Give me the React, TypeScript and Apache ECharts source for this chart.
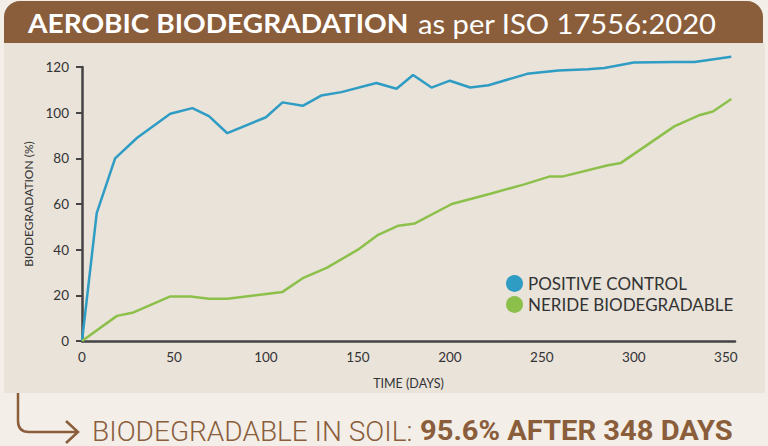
import React, { useEffect, useRef } from "react";
import * as echarts from "echarts";

const xTicks = [0, 50, 100, 150, 200, 250, 300, 350];
const yTicks = [0, 20, 40, 60, 80, 100, 120];

const controlDays = [0, 8, 18, 30, 48, 60, 69, 79, 100, 109, 120, 130, 141, 160, 171, 180, 190, 200, 211, 221, 242, 259, 275, 284, 300, 322, 333, 353];
const controlValues = [0, 56, 80, 89, 99.5, 102, 98.5, 91, 98, 104.5, 103, 107.5, 109, 113, 110.5, 116.5, 111, 114, 111, 112, 117, 118.5, 119, 119.6, 122, 122.2, 122.2, 124.5];

const nerideDays = [0, 19, 28, 48, 59, 69, 79, 99, 109, 120, 133, 150, 161, 172, 181, 201, 222, 240, 254, 261, 286, 293, 322, 336, 343, 353];
const nerideValues = [0, 11, 12.5, 19.5, 19.5, 18.5, 18.5, 20.5, 21.5, 27.5, 32, 40, 46.5, 50.5, 51.5, 60, 64.5, 68.5, 72, 72, 77, 78, 94, 99, 100.5, 106];

const seriesNames = ["POSITIVE CONTROL", "NERIDE BIODEGRADABLE"];

const BROWN = "#8a5d3b";

let registered = false;
function registerArrow() {
  if (registered) return;
  registered = true;
  const d = "M18 393 L18 421 Q18 432 29 432 L78 432 M66 421 L78 432 L66 443";
  echarts.graphic.registerShape("arrowShape", echarts.graphic.extendPath(d, {}) as any);
}

export default function App() {
  const ref = useRef<HTMLDivElement>(null);
  useEffect(() => {
    registerArrow();
    const chart = echarts.init(ref.current!, undefined, { renderer: "svg" });
    const zip = (a: number[], b: number[]) => a.map((v, i) => [v, b[i]]);
    chart.setOption({
      animation: false,
      backgroundColor: "#f3efe8",
      graphic: [
        { type: "rect", z: -10, shape: { x: 4, y: 43, width: 761, height: 350 }, style: { fill: "#e9e3da" } },
        { type: "rect", z: -9, shape: { x: 4, y: 1, width: 759, height: 42, r: [16, 16, 0, 0] }, style: { fill: BROWN } },
        {
          type: "text",
          x: 28,
          y: 23,
          scaleX: 1.04,
          style: {
            text: "AEROBIC BIODEGRADATION",
            verticalAlign: "middle",
            fontFamily: "Lato",
            fontWeight: "bold",
            fontSize: 27,
            lineHeight: 27,
            fill: "#ffffff",
          },
        },
        {
          type: "text",
          x: 418,
          y: 23,
          scaleX: 1.08,
          style: {
            text: "as per ISO 17556:2020",
            verticalAlign: "middle",
            fontFamily: "Lato",
            fontWeight: "normal",
            fontSize: 27,
            lineHeight: 27,
            fill: "#ffffff",
          },
        },
        { type: "arrowShape", x: 0, y: 0, style: { fill: "none", stroke: BROWN, lineWidth: 2.5 } },
        {
          type: "text",
          x: 92,
          y: 431,
          scaleX: 1.0,
          style: {
            text: "BIODEGRADABLE IN SOIL:",
            verticalAlign: "middle",
            fontFamily: "Roboto",
            fontWeight: 300,
            fontSize: 28,
            lineHeight: 26,
            fill: BROWN,
          },
        },
        {
          type: "text",
          x: 420,
          y: 431,
          scaleX: 1.04,
          style: {
            text: "95.6% AFTER 348 DAYS",
            verticalAlign: "middle",
            fontFamily: "Roboto",
            fontWeight: "bold",
            fontSize: 28,
            lineHeight: 26,
            fill: BROWN,
          },
        },
      ],
      legend: {
        orient: "vertical",
        left: 501,
        top: 270,
        itemWidth: 17,
        itemHeight: 17,
        itemGap: 4,
        icon: "circle",
        textStyle: { fontFamily: "Lato", fontSize: 17, color: "#333333" },
        data: seriesNames,
      },
      grid: { left: 82, right: 33, top: 67, bottom: 105, containLabel: false },
      xAxis: {
        type: "value",
        min: 0,
        max: 355,
        interval: 50,
        name: "TIME (DAYS)",
        nameLocation: "middle",
        nameGap: 36,
        nameTextStyle: { fontFamily: "Lato", fontSize: 12.5, color: "#333333" },
        axisLine: { show: true, lineStyle: { color: "#444444", width: 2.5 } },
        axisTick: { show: false },
        splitLine: { show: false },
        axisLabel: {
          fontFamily: "Lato",
          fontSize: 13.5,
          color: "#333333",
          margin: 9,
          customValues: xTicks,
        },
      },
      yAxis: {
        type: "value",
        min: 0,
        max: 120,
        interval: 20,
        name: "BIODEGRADATION (%)",
        nameLocation: "middle",
        nameGap: 47,
        nameTextStyle: { fontFamily: "Lato", fontSize: 12, color: "#333333" },
        axisLine: { show: true, lineStyle: { color: "#444444", width: 2.5 } },
        axisTick: { show: true, length: 6, lineStyle: { color: "#444444", width: 2 } },
        splitLine: { show: false },
        axisLabel: {
          fontFamily: "Lato",
          fontSize: 13.5,
          color: "#333333",
          margin: 13,
          customValues: yTicks,
        },
      },
      series: [
        {
          name: seriesNames[0],
          type: "line",
          clip: false,
          data: zip(controlDays, controlValues),
          showSymbol: false,
          symbol: "circle",
          itemStyle: { color: "#2f9cc4" },
          lineStyle: { color: "#2f9cc4", width: 2.5 },
        },
        {
          name: seriesNames[1],
          type: "line",
          clip: false,
          data: zip(nerideDays, nerideValues),
          showSymbol: false,
          symbol: "circle",
          itemStyle: { color: "#8dc04b" },
          lineStyle: { color: "#8dc04b", width: 2.5 },
        },
      ],
    });
    return () => chart.dispose();
  }, []);
  return <div ref={ref} style={{ position: "absolute", left: 0, top: 0, width: 768, height: 446 }} />;
}
